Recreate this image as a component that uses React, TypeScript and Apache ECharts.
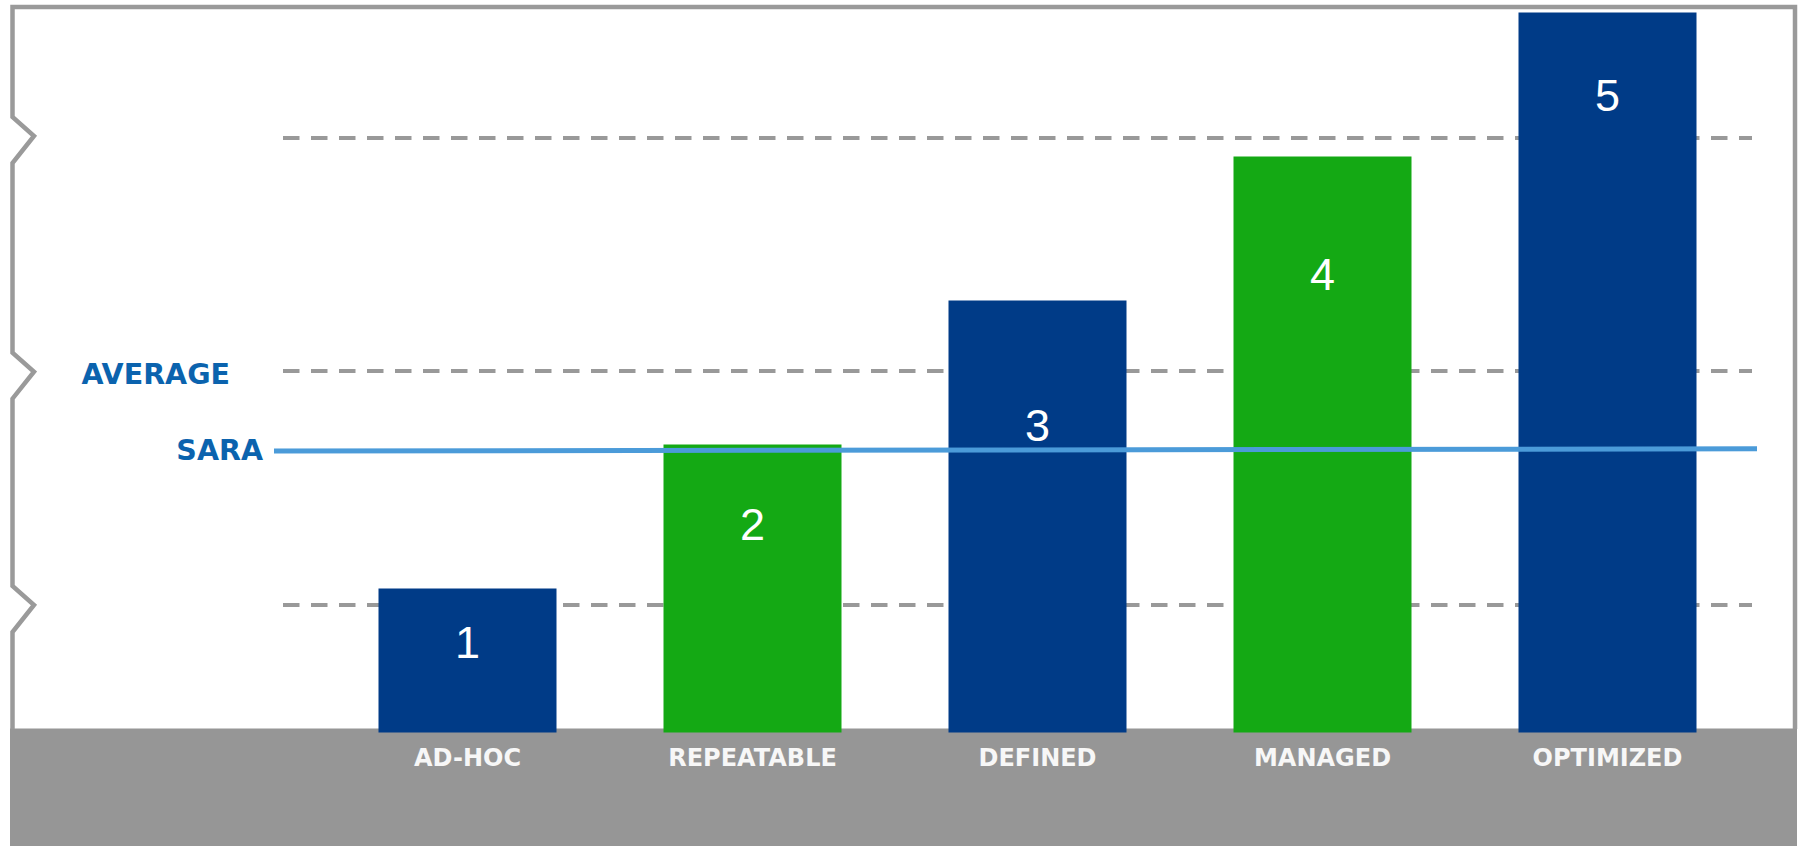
import React, { useEffect, useRef } from "react";
import * as echarts from "echarts";

const categories = ["AD-HOC", "REPEATABLE", "DEFINED", "MANAGED", "OPTIMIZED"];
const levels = [1, 2, 3, 4, 5];
const gridLevels = [0.885, 2.506, 4.125];
const averageIndex = 1;
const saraStart = 1.955;
const saraEnd = 1.97;

const BLUE = "#003b87";
const GREEN = "#14a914";
const barColors = [BLUE, GREEN, BLUE, GREEN, BLUE];
const labelCenterFromTop = [54, 80, 125, 118, 83];

const GRID_TOP = 12.5;
const GRID_BOTTOM = 113.5;

export default function App() {
  const ref = useRef<HTMLDivElement>(null);

  useEffect(() => {
    if (!ref.current) return;
    const chart = echarts.init(ref.current, undefined, { renderer: "svg" });

    const notch = (tip: number) => [
      [12.5, tip + 27],
      [34, tip],
      [12.5, tip - 19],
    ];
    const borderPoints = [
      [12.5, 729],
      ...notch(605),
      ...notch(371.7),
      ...notch(136),
      [12.5, 7],
      [1795, 7],
      [1795, 729],
    ];

    const yAxisBase = {
      type: "value",
      min: 0,
      max: 5,
      show: false,
      splitLine: { show: false },
    };

    const blueText = {
      fontFamily: "DejaVu Sans",
      fontWeight: "bold",
      fontSize: 28.5,
      color: "#0b63ae",
    };

    chart.setOption({
      animation: false,
      backgroundColor: "#ffffff",
      grid: [
        { left: 325, right: 49, top: GRID_TOP, bottom: GRID_BOTTOM },
        { left: 283, right: 47, top: GRID_TOP, bottom: GRID_BOTTOM },
        { left: 274, right: 42, top: GRID_TOP, bottom: GRID_BOTTOM },
      ],
      xAxis: [
        {
          type: "category",
          gridIndex: 0,
          data: categories,
          axisLine: { show: false },
          axisTick: { show: false },
          splitLine: { show: false },
          axisLabel: {
            margin: 13,
            color: "#f7f7f7",
            fontFamily: "DejaVu Sans",
            fontWeight: "bold",
            fontSize: 24,
          },
        },
        { type: "value", gridIndex: 1, min: 0, max: 1, show: false, splitLine: { show: false } },
        { type: "value", gridIndex: 2, min: 0, max: 1, show: false, splitLine: { show: false } },
      ],
      yAxis: [
        { ...yAxisBase, gridIndex: 0 },
        { ...yAxisBase, gridIndex: 1 },
        { ...yAxisBase, gridIndex: 2 },
      ],
      graphic: [
        {
          type: "rect",
          z: 0,
          silent: true,
          shape: { x: 10, y: 728.5, width: 1787, height: 118 },
          style: { fill: "#969696" },
        },
        {
          type: "polyline",
          z: 1,
          silent: true,
          shape: { points: borderPoints },
          style: { stroke: "#9a9a9a", lineWidth: 4.5, fill: null, lineJoin: "miter" },
        },
      ],
      series: [
        {
          type: "line",
          xAxisIndex: 1,
          yAxisIndex: 1,
          data: [],
          z: 1,
          markLine: {
            z: 1,
            silent: true,
            symbol: ["none", "none"],
            animation: false,
            lineStyle: { color: "#999999", width: 4, type: [16.5, 11.5] },
            emphasis: { disabled: true },
            data: gridLevels.map((v, i) => ({
              yAxis: v,
              label:
                i === averageIndex
                  ? {
                      show: true,
                      position: "start",
                      distance: 53,
                      formatter: "AVERAGE",
                      offset: [0, 3],
                      ...blueText,
                    }
                  : { show: false },
            })),
          },
        },
        {
          type: "bar",
          xAxisIndex: 0,
          yAxisIndex: 0,
          z: 3,
          barWidth: 178,
          data: levels.map((v, i) => ({
            value: v,
            itemStyle: { color: barColors[i] },
            label: {
              show: true,
              position: ["50%", labelCenterFromTop[i]],
              align: "center",
              verticalAlign: "middle",
              formatter: String(v),
              color: "#ffffff",
              fontFamily: "Liberation Sans",
              fontWeight: "normal",
              fontSize: 45,
            },
          })),
          emphasis: { disabled: true },
        },
        {
          type: "line",
          xAxisIndex: 2,
          yAxisIndex: 2,
          z: 4,
          symbol: "circle",
          symbolSize: 0.1,
          showSymbol: true,
          lineStyle: { color: "#4b9bd9", width: 5 },
          itemStyle: { color: "#4b9bd9" },
          emphasis: { disabled: true },
          data: [
            {
              value: [0, saraStart],
              label: {
                show: true,
                position: "left",
                distance: 11,
                formatter: "SARA",
                ...blueText,
              },
            },
            { value: [1, saraEnd] },
          ],
        },
      ],
    });

    return () => chart.dispose();
  }, []);

  return (
    <div
      ref={ref}
      style={{ position: "fixed", left: 0, top: 0, width: 1799, height: 846 }}
    />
  );
}
